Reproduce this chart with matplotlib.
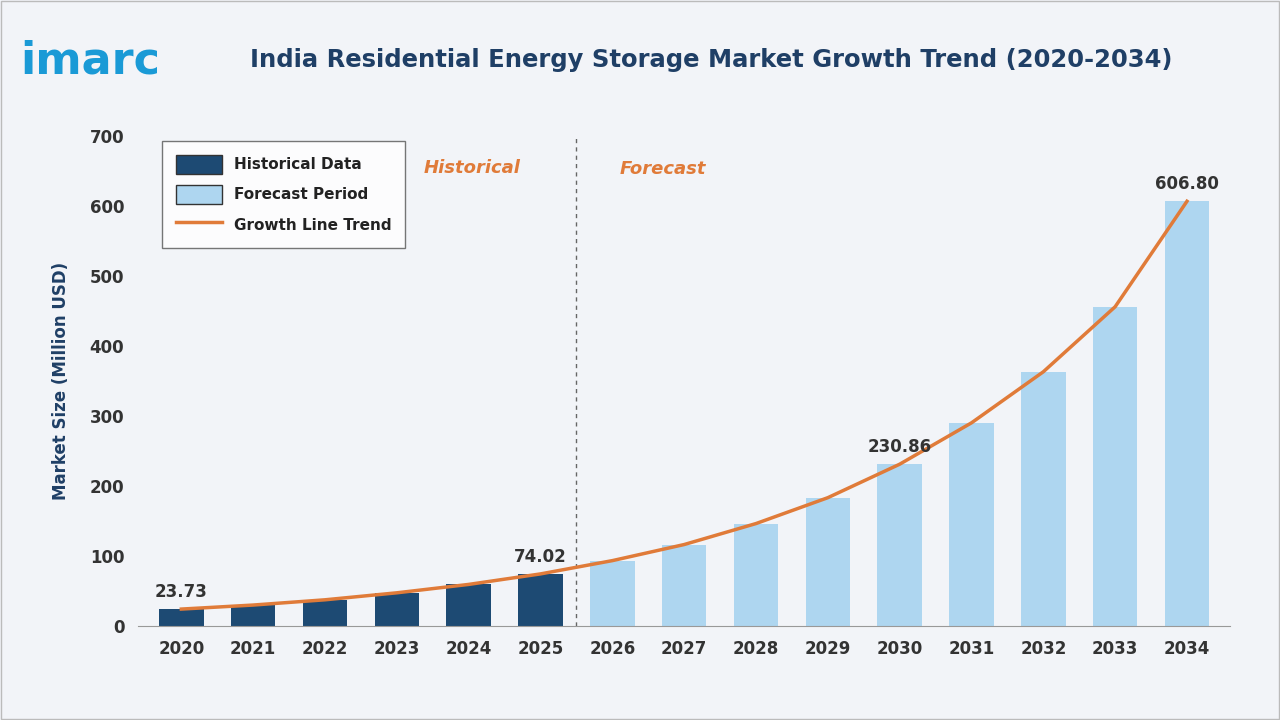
import matplotlib.pyplot as plt
from matplotlib.patches import Patch
from matplotlib.lines import Line2D

years = [2020, 2021, 2022, 2023, 2024, 2025, 2026, 2027, 2028, 2029, 2030, 2031, 2032, 2033, 2034]
values = [23.73, 29.5, 37.0, 47.0, 59.0, 74.02, 93.0, 116.0, 146.0, 183.0, 230.86, 290.0, 363.0, 456.0, 606.80]
labelled = {2020: '23.73', 2025: '74.02', 2030: '230.86', 2034: '606.80'}
hist_years = 6

dark = '#1d4a73'
light = '#aed6f0'
orange = '#e07b39'
navy = '#1f3f66'

fig = plt.figure(figsize=(12.8, 7.2), dpi=100)
fig.patch.set_facecolor('#f2f4f8')
ax = fig.add_axes([0.108, 0.131, 0.853, 0.680])
ax.set_facecolor('none')

x = list(range(len(years)))
colors = [dark] * hist_years + [light] * (len(years) - hist_years)
ax.bar(x, values, width=0.62, color=colors, zorder=2)
ax.plot(x, values, color=orange, lw=2.5, zorder=3)

for i, (yr, v) in enumerate(zip(years, values)):
    if yr in labelled:
        ax.text(i, v + 12, labelled[yr], ha='center', va='bottom', fontsize=12,
                fontweight='bold', color='#333333', zorder=4)

ax.axvline(hist_years - 0.5, color='#666666', lw=1, ls=(0, (3, 3)), zorder=1)
ax.text(4.05, 655, 'Historical', color=orange, fontsize=13, style='italic', fontweight='bold', ha='center', va='center')
ax.text(6.7, 653, 'Forecast', color=orange, fontsize=13, style='italic', fontweight='bold', ha='center', va='center')

ax.set_xlim(-0.6, len(years) - 0.4)
ax.set_ylim(0, 700)
ax.set_xticks(x)
ax.set_xticklabels([str(y) for y in years], fontsize=12, fontweight='bold', color='#333333')
ax.set_yticks(range(0, 701, 100))
ax.tick_params(axis='y', labelsize=12, colors='#333333', length=0, pad=10)
ax.tick_params(axis='x', length=0, pad=10)
for lbl in ax.get_yticklabels():
    lbl.set_fontweight('bold')
for s in ax.spines.values():
    s.set_visible(False)
ax.spines['bottom'].set_visible(True)
ax.spines['bottom'].set_color('#999999')
ax.set_ylabel('Market Size (Million USD)', fontsize=12, fontweight='bold', color=navy, labelpad=14)

handles = [Patch(facecolor=dark, edgecolor='#333333', label='Historical Data'),
           Patch(facecolor=light, edgecolor='#333333', label='Forecast Period'),
           Line2D([0], [0], color=orange, lw=2.5, label='Growth Line Trend')]
leg = ax.legend(handles=handles, loc='upper left', bbox_to_anchor=(0.015, 1.005), fontsize=11,
                frameon=True, fancybox=False, edgecolor='#555555', handlelength=3.0,
                handleheight=1.5, borderpad=0.9, labelspacing=0.75)
leg.get_frame().set_facecolor('white')
for t in leg.get_texts():
    t.set_color('#222222')
    t.set_fontweight('bold')

fig.text(0.016, 0.915, 'imarc', fontsize=32, fontweight='bold', color='#1a9ad6', va='center')
fig.text(0.556, 0.917, 'India Residential Energy Storage Market Growth Trend (2020-2034)',
         fontsize=17.5, fontweight='bold', color=navy, ha='center', va='center')
fig.add_artist(plt.Rectangle((0.001, 0.001), 0.998, 0.998, transform=fig.transFigure,
                             fill=False, edgecolor='#bbbbbb', lw=1))

fig.savefig('out.png', dpi=100, facecolor=fig.get_facecolor())
